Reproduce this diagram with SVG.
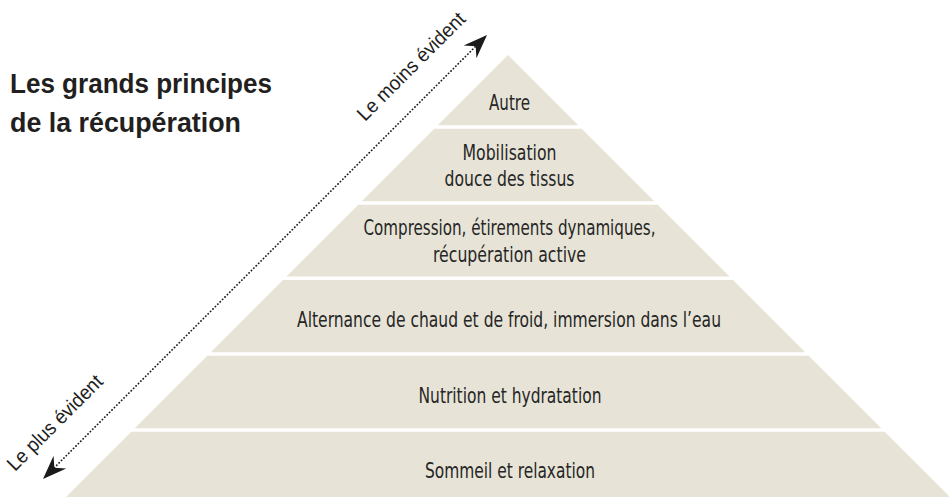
<svg xmlns="http://www.w3.org/2000/svg" width="949" height="497" viewBox="0 0 949 497">
<style>
.band{fill:#e7e4d7}
.t{font-family:"Liberation Sans Narrow","DejaVu Sans Condensed","Liberation Sans",Arial,sans-serif;font-size:22px;fill:#262626;text-anchor:middle}
.title{font-family:"Liberation Sans",Arial,sans-serif;font-size:28px;font-weight:bold;fill:#231f20}
.lbl{font-family:"Liberation Sans",Arial,sans-serif;font-size:20px;fill:#1e1e1e}
.dot{stroke:#1e1e1e;stroke-width:1.8;stroke-dasharray:0.1 3.3;stroke-linecap:round;fill:none}
</style>
<defs>
<marker id="ah" markerUnits="userSpaceOnUse" markerWidth="26" markerHeight="20" viewBox="0 0 26 20" refX="8" refY="10" orient="auto-start-reverse">
<path d="M0,1 L24,10 L0,19 L8,10 Z" fill="#1a1a1a"/>
</marker>
</defs>
<rect width="949" height="497" fill="#ffffff"/>
<g id="title">
<text class="title" x="10" y="93" textLength="262" lengthAdjust="spacingAndGlyphs">Les grands principes</text>
<text class="title" x="10" y="132" textLength="231" lengthAdjust="spacingAndGlyphs">de la récupération</text>
</g>
<g id="band-autre">
<polygon class="band" points="508,55 578.3,125.3 437.7,125.3"/>
<text class="t" x="509.5" y="110" textLength="41" lengthAdjust="spacingAndGlyphs">Autre</text>
</g>
<g id="band-mobilisation">
<polygon class="band" points="434.3,128.7 581.7,128.7 654.3,201.3 361.7,201.3"/>
<text class="t" x="509.5" y="160" textLength="94" lengthAdjust="spacingAndGlyphs">Mobilisation</text>
<text class="t" x="509.5" y="186" textLength="130" lengthAdjust="spacingAndGlyphs">douce des tissus</text>
</g>
<g id="band-compression">
<polygon class="band" points="358.3,204.7 657.7,204.7 729.6,276.6 286.4,276.6"/>
<text class="t" x="509.5" y="235" textLength="292" lengthAdjust="spacingAndGlyphs">Compression, étirements dynamiques,</text>
<text class="t" x="509.5" y="262" textLength="153" lengthAdjust="spacingAndGlyphs">récupération active</text>
</g>
<g id="band-alternance">
<polygon class="band" points="283,280 733,280 805.3,352.3 210.7,352.3"/>
<text class="t" x="509" y="327" textLength="424" lengthAdjust="spacingAndGlyphs">Alternance de chaud et de froid, immersion dans l’eau</text>
</g>
<g id="band-nutrition">
<polygon class="band" points="207.3,355.7 808.7,355.7 881.3,428.3 134.7,428.3"/>
<text class="t" x="510" y="403" textLength="183" lengthAdjust="spacingAndGlyphs">Nutrition et hydratation</text>
</g>
<g id="band-sommeil">
<polygon class="band" points="131.3,431.7 884.7,431.7 953,500 63,500"/>
<text class="t" x="510" y="478" textLength="170" lengthAdjust="spacingAndGlyphs">Sommeil et relaxation</text>
</g>
<g id="connectors">
<line class="dot" x1="54.3" y1="467.7" x2="475.7" y2="46.3" marker-start="url(#ah)" marker-end="url(#ah)"/>
<text class="lbl" transform="translate(365,122) rotate(-45)" textLength="144" lengthAdjust="spacingAndGlyphs">Le moins évident</text>
<text class="lbl" transform="translate(15,472) rotate(-45)" textLength="126" lengthAdjust="spacingAndGlyphs">Le plus évident</text>
</g>
</svg>
